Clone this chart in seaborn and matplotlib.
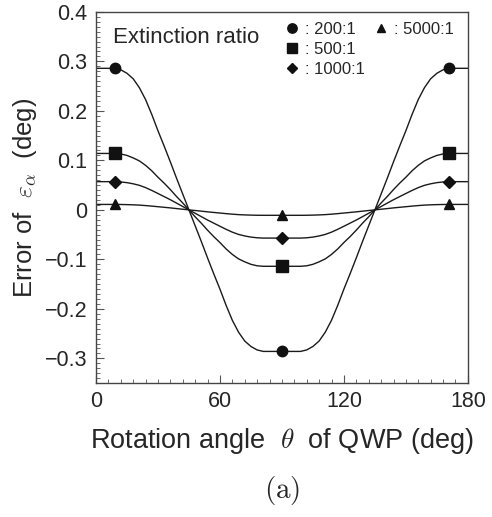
import numpy as np
import pandas as pd
import matplotlib
matplotlib.use("Agg")
import matplotlib.pyplot as plt
import seaborn as sns
from matplotlib.ticker import MultipleLocator, FixedLocator, FixedFormatter
from matplotlib.lines import Line2D

theta = [0, 3, 6, 9, 12, 15, 18, 21, 24, 27, 30, 33, 36, 39, 42, 45,
         48, 51, 54, 57, 60, 63, 66, 69, 72, 75, 78, 81, 84, 87, 90,
         93, 96, 99, 102, 105, 108, 111, 114, 117, 120, 123, 126, 129, 132, 135,
         138, 141, 144, 147, 150, 153, 156, 159, 162, 165, 168, 171, 174, 177, 180]

err_200 = [0.286, 0.286, 0.286, 0.286, 0.283, 0.276, 0.265, 0.247, 0.223, 0.193, 0.160, 0.129, 0.097, 0.064, 0.032, 0.0,
           -0.032, -0.064, -0.097, -0.129, -0.160, -0.193, -0.223, -0.247, -0.265, -0.276, -0.283, -0.286, -0.286, -0.286, -0.286,
           -0.286, -0.286, -0.286, -0.283, -0.276, -0.265, -0.247, -0.223, -0.193, -0.160, -0.129, -0.097, -0.064, -0.032, 0.0,
           0.032, 0.064, 0.097, 0.129, 0.160, 0.193, 0.223, 0.247, 0.265, 0.276, 0.283, 0.286, 0.286, 0.286, 0.286]
err_500 = [0.114, 0.114, 0.114, 0.114, 0.113, 0.110, 0.105, 0.099, 0.090, 0.079, 0.066, 0.054, 0.041, 0.027, 0.014, 0.0,
           -0.014, -0.027, -0.041, -0.054, -0.066, -0.079, -0.090, -0.099, -0.105, -0.110, -0.113, -0.114, -0.114, -0.114, -0.114,
           -0.114, -0.114, -0.114, -0.113, -0.110, -0.105, -0.099, -0.090, -0.079, -0.066, -0.054, -0.041, -0.027, -0.014, 0.0,
           0.014, 0.027, 0.041, 0.054, 0.066, 0.079, 0.090, 0.099, 0.105, 0.110, 0.113, 0.114, 0.114, 0.114, 0.114]
err_1000 = [0.057, 0.057, 0.057, 0.057, 0.0564, 0.055, 0.0527, 0.0496, 0.045, 0.0393, 0.0331, 0.0268, 0.0205, 0.0137, 0.0068, 0.0,
            -0.0068, -0.0137, -0.0205, -0.0268, -0.0331, -0.0393, -0.045, -0.0496, -0.0527, -0.055, -0.0564, -0.057, -0.057, -0.057, -0.057,
            -0.057, -0.057, -0.057, -0.0564, -0.055, -0.0527, -0.0496, -0.045, -0.0393, -0.0331, -0.0268, -0.0205, -0.0137, -0.0068, 0.0,
            0.0068, 0.0137, 0.0205, 0.0268, 0.0331, 0.0393, 0.045, 0.0496, 0.0527, 0.055, 0.0564, 0.057, 0.057, 0.057, 0.057]
err_5000 = [0.011, 0.011, 0.011, 0.011, 0.0109, 0.0106, 0.0102, 0.0096, 0.0087, 0.0076, 0.0064, 0.0052, 0.0040, 0.0026, 0.0013, 0.0,
            -0.0013, -0.0026, -0.0040, -0.0052, -0.0064, -0.0076, -0.0087, -0.0096, -0.0102, -0.0106, -0.0109, -0.011, -0.011, -0.011, -0.011,
            -0.011, -0.011, -0.011, -0.0109, -0.0106, -0.0102, -0.0096, -0.0087, -0.0076, -0.0064, -0.0052, -0.0040, -0.0026, -0.0013, 0.0,
            0.0013, 0.0026, 0.0040, 0.0052, 0.0064, 0.0076, 0.0087, 0.0096, 0.0102, 0.0106, 0.0109, 0.011, 0.011, 0.011, 0.011]

series_labels = ["200:1", "500:1", "1000:1", "5000:1"]
series_markers = ["o", "s", "D", "^"]
marker_angles = [9, 90, 171]
y_ticks = [-0.3, -0.2, -0.1, 0.0, 0.1, 0.2, 0.3, 0.4]
y_ticklabels = ["\u22120.3", "\u22120.2", "\u22120.1", "0", "0.1", "0.2", "0.3", "0.4"]
x_ticks = [0, 60, 120, 180]

sns.set_style("ticks")
plt.rcParams["font.family"] = ["Liberation Sans", "DejaVu Sans"]
plt.rcParams["mathtext.fontset"] = "cm"

rows = []
for lab, vals in zip(series_labels, [err_200, err_500, err_1000, err_5000]):
    for t, v in zip(theta, vals):
        rows.append({"theta": t, "err": v, "ratio": lab})
df = pd.DataFrame(rows)
mk = df[df["theta"].isin(marker_angles)]

fig = plt.figure(figsize=(4.92, 5.17), dpi=100)
ax = fig.add_axes([0.195, 0.259, 0.756, 0.718])

sns.lineplot(data=df, x="theta", y="err", units="ratio", estimator=None,
             color="#1a1a1a", lw=1.0, ax=ax, legend=False)
msizes = {"o": 7.5, "s": 8, "D": 6, "^": 6.5}
for lab, m in zip(series_labels, series_markers):
    sub = mk[mk["ratio"] == lab]
    ax.plot(sub["theta"], sub["err"], ls="none", marker=m, ms=msizes[m],
            color="#111111", mec="#111111")

ax.set_xlim(0, 180)
ax.set_ylim(-0.35, 0.4)
ax.xaxis.set_major_locator(FixedLocator(x_ticks))
ax.xaxis.set_minor_locator(MultipleLocator(6))
ax.yaxis.set_major_locator(FixedLocator(y_ticks))
ax.yaxis.set_major_formatter(FixedFormatter(y_ticklabels))
ax.yaxis.set_minor_locator(MultipleLocator(0.01))
ax.tick_params(which="major", direction="in", length=6, width=0.8, labelsize=15.5,
               color="#555555", pad=6)
ax.tick_params(which="minor", direction="in", length=3, width=0.6, color="#555555")
for s in ax.spines.values():
    s.set_color("#444444")
    s.set_linewidth(1.0)

ax.set_xlabel(r"Rotation angle  $\theta$  of QWP (deg)", fontsize=19.5, labelpad=10)
ax.set_ylabel(r"Error of  $\varepsilon_\alpha$  (deg)", fontsize=18.5, labelpad=4)

ax.text(0.045, 0.93, "Extinction ratio", transform=ax.transAxes, fontsize=16,
        va="center", ha="left")

handles = []
for lab, m in zip(series_labels, series_markers):
    handles.append(Line2D([], [], ls="none", marker=m, color="#111111",
                          ms=msizes[m] * 0.9, label=": " + lab))
order = [handles[0], handles[1], handles[2], handles[3],
         Line2D([], [], ls="none", label=" "), Line2D([], [], ls="none", label=" ")]
leg = ax.legend(handles=order, ncol=2, loc="upper left", bbox_to_anchor=(0.48, 1.0),
                frameon=False, fontsize=12, handlelength=0.9, handletextpad=0.35,
                columnspacing=0.5, labelspacing=0.3, borderaxespad=0.2)

fig.text(0.573, 0.052, r"$\mathrm{(a)}$", fontsize=21, ha="center", va="center")

fig.savefig("out.png", dpi=100)
